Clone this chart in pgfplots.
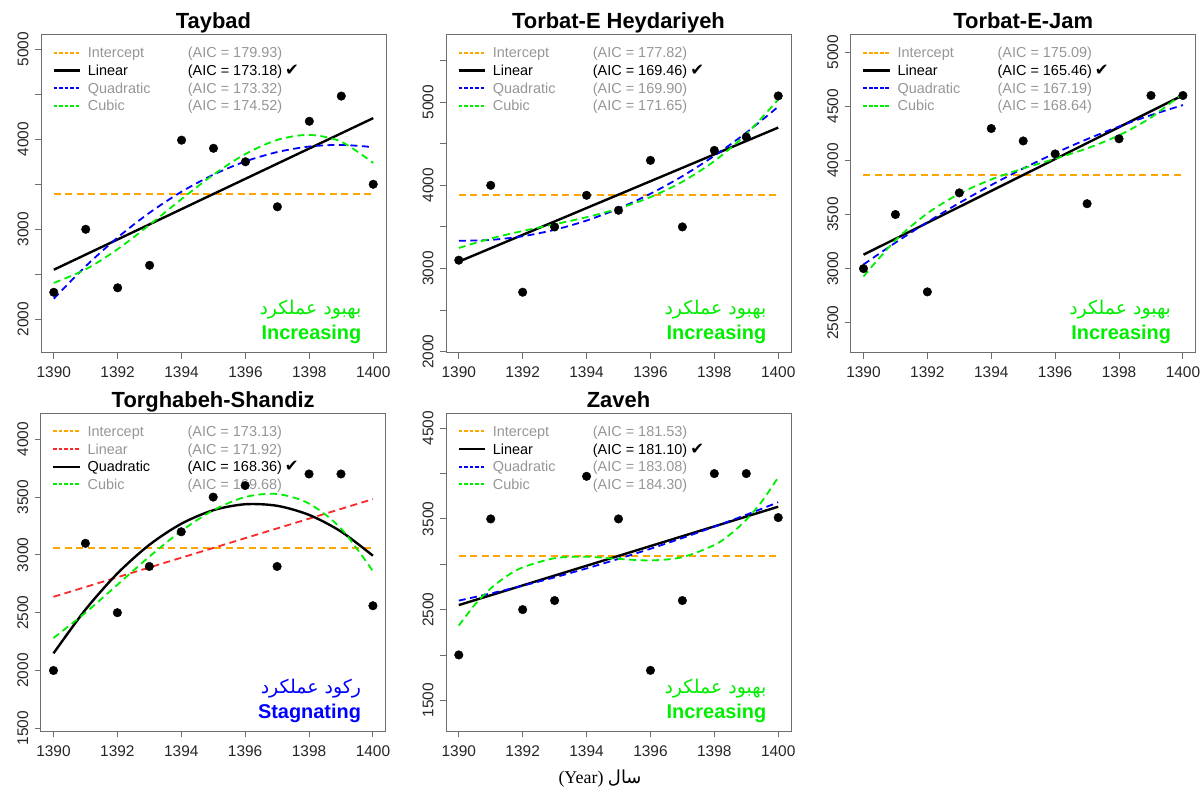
\documentclass[border=0pt]{standalone}
\usepackage{pgfplots}
\pgfplotsset{compat=1.18}
\usepackage{fontspec}
\setmainfont{Liberation Sans}
\newfontfamily\seriffont{Liberation Serif}
\newfontfamily\arabicfont[Script=Arabic]{DejaVu Sans}
\newfontfamily\symfont{DejaVu Sans}
\TeXXeTstate=1

\definecolor{rorange}{RGB}{255,165,0}
\definecolor{rgreen}{RGB}{0,238,0}
\definecolor{rblue}{RGB}{0,0,255}
\definecolor{rred}{RGB}{250,40,40}
\definecolor{leggray}{RGB}{150,150,150}
\definecolor{boxgray}{RGB}{110,110,110}

\newcommand{\legfont}{\fontsize{14.5}{14.5}\selectfont}
\newcommand{\persfont}{\arabicfont\fontsize{19}{19}\selectfont}
\newcommand{\annfont}{\bfseries\fontsize{20}{20}\selectfont}

\pgfplotsset{
  panel/.style={
    scale only axis, width=345bp, height=318bp, anchor=south west,
    xmin=1389.6, xmax=1400.4, clip=false,
    xtick={1390,1392,...,1400},
    xticklabels={1390,1392,1394,1396,1398,1400},
    tick align=outside, major tick length=6bp,
    xtick pos=bottom, ytick pos=left,
    axis line style={boxgray, line width=0.9bp},
    tick style={boxgray, line width=0.9bp},
    ticklabel style={font=\fontsize{15.5}{15.5}\selectfont, text=black!85},
    xticklabel style={yshift=-5bp},
    yticklabel style={xshift=-3bp, rotate=90, anchor=south},
    title style={font=\bfseries\fontsize{22}{22}\selectfont, anchor=base, yshift=0bp, inner sep=0pt},
  },
  dashedfit/.style={line width=1.8bp, dash pattern=on 7bp off 4.5bp, no marks},
  bestfit/.style={black, line width=2.4bp, no marks},
  pts/.style={only marks, mark=*, mark size=4.3bp, black, mark options={fill=black, draw=black}},
}

% legend key samples, set as text
\newcommand{\dsample}[2][4.1bp]{\makebox[34.2bp][l]{\raisebox{#1}{\textcolor{#2}{\leaders\hbox{\rule{3.6bp}{1.8bp}\hspace{1.9bp}}\hskip 27.5bp}}}}
\newcommand{\ssample}{\makebox[34.2bp][l]{\raisebox{3.8bp}{\rule{26.5bp}{2.4bp}}}}
% #1 baseline y, #2 sample, #3 text colour, #4 name, #5 AIC text
\newcommand{\legrow}[5]{%
  \node[anchor=base west, inner sep=0pt, font=\legfont] at ([xshift=12.5bp,yshift=#1]axis description cs:0,1)
    {#2\makebox[100bp][l]{\textcolor{#3}{#4}}\textcolor{#3}{#5}};
}
\newcommand{\chk}{\hspace{3bp}{\symfont\fontsize{16.5}{16.5}\selectfont ✔}}
% #1 colour, #2 persian (already wrapped), #3 english
\newcommand{\annot}[3]{%
  \node[anchor=base east, inner sep=0pt, text=#1, font=\persfont] at ([xshift=-24.5bp,yshift=38bp]axis description cs:1,0) {#2};
  \node[anchor=base east, inner sep=0pt, text=#1, font=\annfont] at ([xshift=-24.5bp,yshift=13bp]axis description cs:1,0) {#3};
}

\begin{document}
\begin{tikzpicture}
\useasboundingbox (0bp,0bp) rectangle (1203bp,792bp);

% ---------------- Taybad
\begin{axis}[panel, at={(41bp,439.3bp)}, ymin=1629, ymax=5162,
  ytick={2000,2500,...,5000}, yticklabels={2000,{},3000,{},4000,{},5000}, title={Taybad}]
\legrow{-23.3bp}{\dsample{rorange}}{leggray}{Intercept}{(AIC = 179.93)}
\legrow{-40.9bp}{\ssample}{black}{Linear}{(AIC = 173.18)\chk}
\legrow{-58.5bp}{\dsample{rblue}}{leggray}{Quadratic}{(AIC = 173.32)}
\legrow{-76.1bp}{\dsample{rgreen}}{leggray}{Cubic}{(AIC = 174.52)}
\addplot[dashedfit, rorange] coordinates {(1390,3392.7) (1400,3392.7)};
\addplot[bestfit] coordinates {(1390,2550.5) (1400,4234.9)};
\addplot[dashedfit, rblue, smooth] coordinates {(1390,2228.3) (1391,2590.0) (1392,2908.8) (1393,3184.7) (1394,3417.6) (1395,3607.5) (1396,3754.5) (1397,3858.5) (1398,3919.6) (1399,3937.6) (1400,3912.8)};
\addplot[dashedfit, rgreen, smooth] coordinates {(1390,2404.3) (1391,2554.8) (1392,2779.7) (1393,3049.8) (1394,3335.5) (1395,3607.5) (1396,3836.6) (1397,3993.4) (1398,4048.7) (1399,3972.8) (1400,3736.8)};
\addplot[pts] coordinates {(1390,2300) (1391,3000) (1392,2350) (1393,2600) (1394,3990) (1395,3900) (1396,3750) (1397,3250) (1398,4200) (1399,4480) (1400,3500)};
\annot{rgreen}{\beginR بهبود عملکرد\endR}{Increasing}
\end{axis}

% ---------------- Torbat-E Heydariyeh
\begin{axis}[panel, at={(446bp,439.3bp)}, ymin=1988, ymax=5811,
  ytick={2000,2500,...,5500}, yticklabels={2000,{},3000,{},4000,{},5000,{}}, title={Torbat-E Heydariyeh}]
\legrow{-23.3bp}{\dsample{rorange}}{leggray}{Intercept}{(AIC = 177.82)}
\legrow{-40.9bp}{\ssample}{black}{Linear}{(AIC = 169.46)\chk}
\legrow{-58.5bp}{\dsample{rblue}}{leggray}{Quadratic}{(AIC = 169.90)}
\legrow{-76.1bp}{\dsample{rgreen}}{leggray}{Cubic}{(AIC = 171.65)}
\addplot[dashedfit, rorange] coordinates {(1390,3888.2) (1400,3888.2)};
\addplot[bestfit] coordinates {(1390,3082.3) (1400,4694.1)};
\addplot[dashedfit, rblue, smooth] coordinates {(1390,3333.2) (1391,3343.8) (1392,3387.9) (1393,3465.5) (1394,3576.5) (1395,3720.95) (1396,3898.8) (1397,4110.2) (1398,4355.0) (1399,4633.3) (1400,4945.0)};
\addplot[dashedfit, rgreen, smooth] coordinates {(1390,3246.6) (1391,3361.1) (1392,3451.4) (1393,3531.9) (1394,3616.9) (1395,3720.95) (1396,3858.4) (1397,4043.8) (1398,4291.5) (1399,4616.0) (1400,5031.6)};
\addplot[pts] coordinates {(1390,3100) (1391,4000) (1392,2715) (1393,3500) (1394,3880) (1395,3700) (1396,4300) (1397,3500) (1398,4420) (1399,4580) (1400,5075)};
\annot{rgreen}{\beginR بهبود عملکرد\endR}{Increasing}
\end{axis}

% ---------------- Torbat-E-Jam
\begin{axis}[panel, at={(850.7bp,439.3bp)}, ymin=2223, ymax=5162,
  ytick={2500,3000,...,5000}, yticklabels={2500,3000,3500,4000,4500,5000}, title={Torbat-E-Jam}]
\legrow{-23.3bp}{\dsample{rorange}}{leggray}{Intercept}{(AIC = 175.09)}
\legrow{-40.9bp}{\ssample}{black}{Linear}{(AIC = 165.46)\chk}
\legrow{-58.5bp}{\dsample{rblue}}{leggray}{Quadratic}{(AIC = 167.19)}
\legrow{-76.1bp}{\dsample{rgreen}}{leggray}{Cubic}{(AIC = 168.64)}
\addplot[dashedfit, rorange] coordinates {(1390,3865.5) (1400,3865.5)};
\addplot[bestfit] coordinates {(1390,3128.6) (1400,4602.3)};
\addplot[dashedfit, rblue, smooth] coordinates {(1390,3038.1) (1391,3239.8) (1392,3429.4) (1393,3607.0) (1394,3772.4) (1395,3925.8) (1396,4067.2) (1397,4196.4) (1398,4313.6) (1399,4418.6) (1400,4511.7)};
\addplot[dashedfit, rgreen, smooth] coordinates {(1390,2927.2) (1391,3262.0) (1392,3510.7) (1393,3692.0) (1394,3824.2) (1395,3925.8) (1396,4015.4) (1397,4111.4) (1398,4232.3) (1399,4396.4) (1400,4622.6)};
\addplot[pts] coordinates {(1390,3000) (1391,3500) (1392,2785) (1393,3700) (1394,4295) (1395,4180) (1396,4060) (1397,3600) (1398,4200) (1399,4600) (1400,4600)};
\annot{rgreen}{\beginR بهبود عملکرد\endR}{Increasing}
\end{axis}

% ---------------- Torghabeh-Shandiz
\begin{axis}[panel, at={(40.7bp,60.7bp)}, ymin=1474, ymax=4225,
  ytick={1500,2000,...,4000}, yticklabels={1500,2000,2500,3000,3500,4000}, title={Torghabeh-Shandiz}]
\legrow{-23.3bp}{\dsample[4.7bp]{rorange}}{leggray}{Intercept}{(AIC = 173.13)}
\legrow{-40.9bp}{\dsample{rred}}{leggray}{Linear}{(AIC = 171.92)}
\legrow{-58.5bp}{\ssample}{black}{Quadratic}{(AIC = 168.36)\chk}
\legrow{-76.1bp}{\dsample{rgreen}}{leggray}{Cubic}{(AIC = 169.68)}
\addplot[dashedfit, rorange] coordinates {(1390,3060) (1400,3060)};
\addplot[dashedfit, rred] coordinates {(1390,2637.5) (1400,3482.5)};
\addplot[bestfit, smooth] coordinates {(1390,2148.1) (1391,2526.2) (1392,2839.1) (1393,3086.8) (1394,3269.2) (1395,3386.3) (1396,3438.2) (1397,3424.8) (1398,3346.1) (1399,3202.2) (1400,2993.1)};
\addplot[dashedfit, rgreen, smooth] coordinates {(1390,2281.3) (1391,2499.6) (1392,2741.4) (1393,2984.7) (1394,3207.0) (1395,3386.3) (1396,3500.4) (1397,3526.9) (1398,3443.8) (1399,3228.8) (1400,2859.9)};
\addplot[pts] coordinates {(1390,2000) (1391,3100) (1392,2500) (1393,2900) (1394,3200) (1395,3500) (1396,3600) (1397,2900) (1398,3700) (1399,3700) (1400,2560)};
\annot{rblue}{\beginR رکود عملکرد\endR}{Stagnating}
\end{axis}

% ---------------- Zaveh
\begin{axis}[panel, at={(446bp,60.7bp)}, ymin=1158, ymax=4665,
  ytick={1500,2000,...,4500}, yticklabels={1500,{},2500,{},3500,{},4500}, title={Zaveh}]
\legrow{-23.3bp}{\dsample[4.7bp]{rorange}}{leggray}{Intercept}{(AIC = 181.53)}
\legrow{-40.9bp}{\ssample}{black}{Linear}{(AIC = 181.10)\chk}
\legrow{-58.5bp}{\dsample{rblue}}{leggray}{Quadratic}{(AIC = 183.08)}
\legrow{-76.1bp}{\dsample{rgreen}}{leggray}{Cubic}{(AIC = 184.30)}
\addplot[dashedfit, rorange] coordinates {(1390,3092.3) (1400,3092.3)};
\addplot[bestfit] coordinates {(1390,2549.8) (1400,3634.8)};
\addplot[dashedfit, rblue, smooth] coordinates {(1390,2599.2) (1391,2678.1) (1392,2763.5) (1393,2855.6) (1394,2954.2) (1395,3059.4) (1396,3171.2) (1397,3289.6) (1398,3414.5) (1399,3546.1) (1400,3684.2)};
\addplot[dashedfit, rgreen, smooth] coordinates {(1390,2323.6) (1390.5,2553.4) (1391,2733.2) (1391.5,2868.7) (1392,2965.6) (1393,3066.9) (1394,3082.8) (1395,3059.4) (1396,3042.6) (1397,3078.3) (1398,3212.4) (1398.5,3330.7) (1399,3491.0) (1399.5,3698.8) (1400,3959.8)};
\addplot[pts] coordinates {(1390,2000) (1391,3500) (1392,2500) (1393,2600) (1394,3970) (1395,3500) (1396,1830) (1397,2600) (1398,4000) (1399,4000) (1400,3515)};
\annot{rgreen}{\beginR بهبود عملکرد\endR}{Increasing}
\end{axis}

\node[anchor=base, inner sep=0pt, font=\fontsize{18}{18}\selectfont] at (600bp,9bp) {\seriffont (Year) {\arabicfont\beginR سال\endR}};
\end{tikzpicture}
\end{document}
